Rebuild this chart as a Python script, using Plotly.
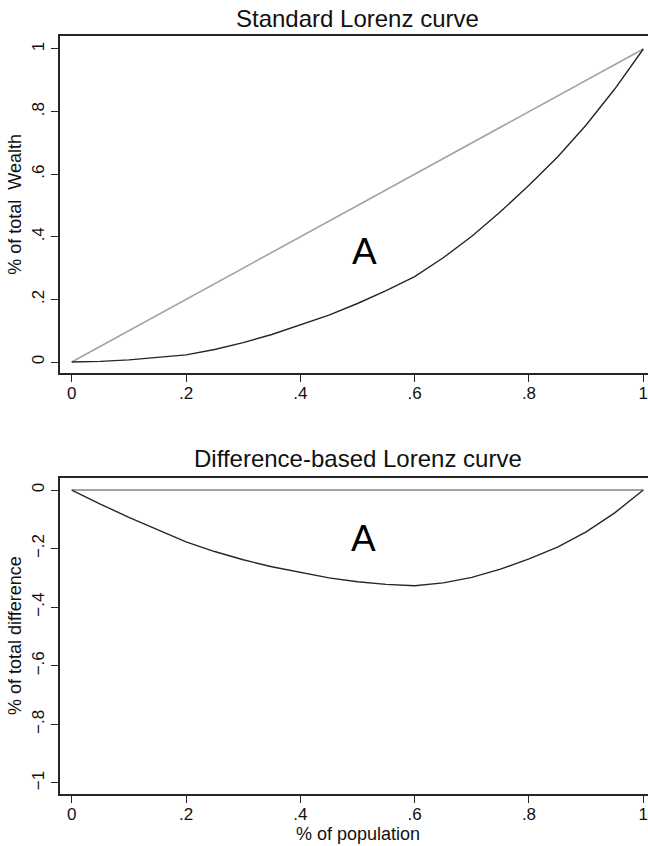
import plotly.graph_objects as go

# Data
pop_share = [0, .05, .10, .15, .20, .25, .30, .35, .40, .45, .50,
             .55, .60, .65, .70, .75, .80, .85, .90, .95, 1.0]
wealth_share = [0, .002, .007, .014, .023, .040, .062, .088, .118, .150, .187,
                .228, .273, .333, .402, .480, .565, .655, .757, .872, 1.0]
diff_share = [0, -.048, -.093, -.136, -.177, -.210, -.238, -.262, -.282, -.300, -.313,
              -.322, -.327, -.317, -.298, -.270, -.235, -.195, -.143, -.078, 0]
equality_x = [0, 1]
equality_y = [0, 1]
zero_x = [0, 1]
zero_y = [0, 0]

x_ticks = [0, .2, .4, .6, .8, 1]
x_ticktext = ["0", ".2", ".4", ".6", ".8", "1"]
y1_ticks = [0, .2, .4, .6, .8, 1]
y1_ticktext = ["0", ".2", ".4", ".6", ".8", "1"]
y2_ticks = [-1, -.8, -.6, -.4, -.2, 0]
y2_ticktext = ["\u22121", "\u2212.8", "\u2212.6", "\u2212.4", "\u2212.2", "0"]

FONT = "Liberation Sans, Arial, Helvetica, sans-serif"
GRAY = "#a3a3a3"
DARK = "#262626"

fig = go.Figure()
fig.add_trace(go.Scatter(x=equality_x, y=equality_y, mode="lines",
                         line=dict(color=GRAY, width=1.6), xaxis="x", yaxis="y",
                         showlegend=False, hoverinfo="skip"))
fig.add_trace(go.Scatter(x=pop_share, y=wealth_share, mode="lines",
                         line=dict(color=DARK, width=1.4), xaxis="x", yaxis="y",
                         showlegend=False))
fig.add_trace(go.Scatter(x=zero_x, y=zero_y, mode="lines",
                         line=dict(color=GRAY, width=1.8), xaxis="x2", yaxis="y2",
                         showlegend=False, hoverinfo="skip"))
fig.add_trace(go.Scatter(x=pop_share, y=diff_share, mode="lines",
                         line=dict(color=DARK, width=1.4), xaxis="x2", yaxis="y2",
                         showlegend=False))

W, H = 648, 846
x_dom = [60 / W, 1.0]
x_rng = [-0.0205, 1.0082]

axis_common = dict(showgrid=False, zeroline=False, showline=True, linecolor=DARK,
                   linewidth=2, ticks="outside", ticklen=7, tickwidth=1.3,
                   tickcolor=DARK, ticklabeloverflow="allow",
                   tickfont=dict(family=FONT, size=17, color="#111"))

fig.update_layout(
    width=W, height=H,
    margin=dict(l=0, r=0, t=0, b=0),
    paper_bgcolor="white", plot_bgcolor="white",
    font=dict(family=FONT, color="#111"),
    xaxis=dict(domain=x_dom, range=x_rng, tickvals=x_ticks, ticktext=x_ticktext,
               anchor="y", mirror=True, ticklabelstandoff=-4, **axis_common),
    yaxis=dict(domain=[1 - 373.3 / H, 1 - 36 / H], range=[-0.036, 1.0415],
               tickvals=y1_ticks, ticktext=y1_ticktext, tickangle=-90,
               anchor="x", **axis_common),
    xaxis2=dict(domain=x_dom, range=x_rng, tickvals=x_ticks, ticktext=x_ticktext,
                anchor="y2", mirror=True, ticklabelstandoff=-4, **axis_common),
    yaxis2=dict(domain=[1 - 794.3 / H, 1 - 478.3 / H], range=[-1.0386, 0.040],
                tickvals=y2_ticks, ticktext=y2_ticktext, tickangle=-90,
                anchor="x2", **axis_common),
)

annos = [
    dict(text="Standard Lorenz curve", x=0.5, xref="x", y=1 - 19 / H, yref="paper",
         showarrow=False, font=dict(family=FONT, size=24, color="#111"),
         xanchor="center", yanchor="middle"),
    dict(text="Difference-based Lorenz curve", x=0.5, xref="x2", y=1 - 458 / H, yref="paper",
         showarrow=False, font=dict(family=FONT, size=24, color="#111"),
         xanchor="center", yanchor="middle"),
    dict(text="% of total\u00a0 Wealth", x=15 / W, xref="paper", y=1 - 204.7 / H, yref="paper",
         textangle=-90, showarrow=False, font=dict(family=FONT, size=18, color="#111"),
         xanchor="center", yanchor="middle"),
    dict(text="% of total difference", x=15 / W, xref="paper", y=1 - 636 / H, yref="paper",
         textangle=-90, showarrow=False, font=dict(family=FONT, size=18, color="#111"),
         xanchor="center", yanchor="middle"),
    dict(text="% of population", x=0.5, xref="x2", y=1 - 834 / H, yref="paper",
         showarrow=False, font=dict(family=FONT, size=18, color="#111"),
         xanchor="center", yanchor="middle"),
    dict(text="A", x=0.512, xref="x", y=0.3526, yref="y", showarrow=False,
         font=dict(family=FONT, size=37, color="#000"), xanchor="center", yanchor="middle"),
    dict(text="A", x=0.51, xref="x2", y=-0.165, yref="y2", showarrow=False,
         font=dict(family=FONT, size=37, color="#000"), xanchor="center", yanchor="middle"),
]
fig.update_layout(annotations=annos)

fig.write_html("out.html")
